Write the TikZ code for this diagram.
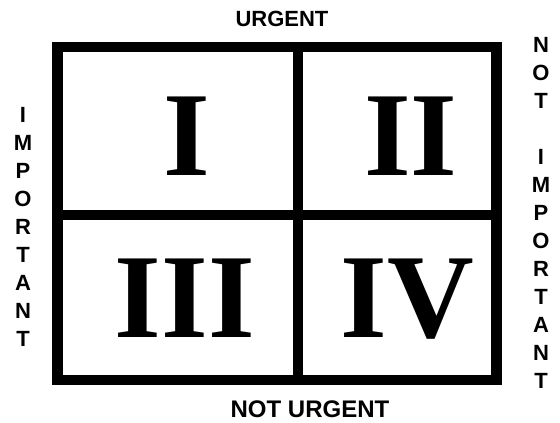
\documentclass[tikz,border=0pt]{standalone}
\usepackage{fontspec}
\setmainfont{Liberation Serif}
\setsansfont{Liberation Sans}
\usepackage{tikz}
\usetikzlibrary{positioning}

\begin{document}
\begin{tikzpicture}[
  x=1pt, y=-1pt,
  frame/.style={line width=10.5pt, black, line join=miter},
  numeral/.style={anchor=base, inner sep=0pt,
                  font=\fontsize{120}{120}\selectfont\bfseries},
  axis/.style={anchor=base, inner sep=0pt,
               font=\sffamily\bfseries\fontsize{22}{22}\selectfont},
  column/.style={inner sep=0pt, align=center,
                 font=\sffamily\bfseries\fontsize{22}{28}\selectfont}
]
  \useasboundingbox (0,0) rectangle (560,423);

  % ── Outer frame and dividers ─────────────────────────────────
  \draw[frame] (57.5,47) rectangle (496.5,380);
  \draw[frame] (298,47) -- (298,380);
  \draw[frame] (57.5,215) -- (496.5,215);

  % ── Quadrant numerals ────────────────────────────────────────
  \node[numeral] (q1) at (187,175) {I};
  \node[numeral] (q2) at (411,175) {II};
  \node[numeral] (q3) at (185,337) {III};
  \node[numeral] (q4) at (407,337) {IV};

  % ── Axis labels ──────────────────────────────────────────────
  \node[axis] (urg)  at (282,27) {URGENT};
  \node[axis, font=\sffamily\bfseries\fontsize{24}{24}\selectfont]
        (nurg) at (310,417) {NOT URGENT};

  % ── Side columns ─────────────────────────────────────────────
  \node[column] (imp)  at (23,227)
        {I\\M\\P\\O\\R\\T\\A\\N\\T};
  \node[column] (nimp) at (541,213)
        {N\\O\\T\\[28pt]I\\M\\P\\O\\R\\T\\A\\N\\T};

\end{tikzpicture}
\end{document}
